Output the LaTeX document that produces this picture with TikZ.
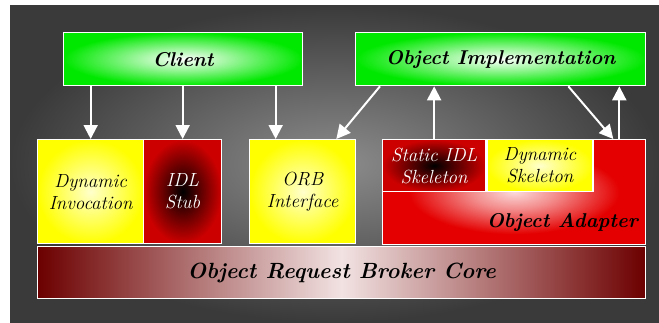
\documentclass[tikz,border=0pt]{standalone}
\usepackage{tikz}
\usetikzlibrary{positioning, arrows.meta, calc}
\definecolor{cBackOut}{RGB}{58, 58, 58}
\definecolor{cBackIn}{RGB}{140, 140, 140}
\definecolor{cGreen}{RGB}{0, 232, 0}
\definecolor{cYellow}{RGB}{255, 255, 0}
\definecolor{cRed}{RGB}{228, 0, 0}
\definecolor{cStub}{RGB}{205, 0, 0}
\definecolor{cDarkRed}{RGB}{108, 0, 0}
\definecolor{cPale}{RGB}{242, 226, 226}

% Lichtfleck fuer den Object Adapter
\pgfdeclareradialshading{adapterspot}{\pgfpoint{0bp}{0bp}}{%
  color(0bp)=(white!85!cRed); color(8bp)=(white!55!cRed); color(20bp)=(cRed); color(50bp)=(cRed)}

\begin{document}
\begin{tikzpicture}[
    x=1pt, y={(0pt,-1pt)},
    box/.style={draw=white, line width=1.3pt, rectangle, anchor=north west, inner sep=0pt},
    greenbox/.style={box, shading=radial, inner color=white, outer color=cGreen},
    yellowbox/.style={box, shading=radial, inner color=white!80!yellow, outer color=cYellow},
    darkbox/.style={box, shading=radial, inner color=black, outer color=cStub, text=white},
    bigtext/.style={font=\fontsize{20}{24}\selectfont\bfseries\itshape},
    coretext/.style={font=\fontsize{22}{26}\selectfont\bfseries\itshape},
    smalltext/.style={font=\fontsize{19}{22}\selectfont\itshape, align=center},
    flow/.style={draw=white, line width=2pt, -{Triangle[width=14pt,length=14pt]}}
]

    % --- Hintergrund ---
    \useasboundingbox (0,0) rectangle (659,322);
    \shade[inner color=cBackIn, outer color=cBackOut] (10,5) rectangle (659,322);

    % --- obere Reihe ---
    \node (client) [greenbox, bigtext, minimum width=239pt, minimum height=53pt] at (63,32) {Client};
    \node (impl) [greenbox, bigtext, minimum width=290pt, minimum height=53pt] at (355,32) {Object Implementation};

    % --- untere Reihe ---
    \node (dyninv) [yellowbox, smalltext, minimum width=106pt, minimum height=104pt] at (37,139) {Dynamic\\Invocation};
    \node (stub) [darkbox, smalltext, minimum width=78pt, minimum height=104pt] at (143,139) {IDL\\Stub};
    \node (orbif) [yellowbox, smalltext, minimum width=106pt, minimum height=104pt] at (249,139) {ORB\\Interface};

    % Object Adapter mit Skeletons
    \node (adapter) [box, shading=adapterspot, minimum width=263pt, minimum height=105pt,
        label={[bigtext, anchor=south east, xshift=-5pt, yshift=10pt]south east:Object Adapter}] at (382,139) {};
    \node (statskel) [darkbox, smalltext, minimum width=103pt, minimum height=52pt] at (382,139) {Static IDL\\Skeleton};
    \node (dynskel) [yellowbox, smalltext, minimum width=106pt, minimum height=52pt, right=0pt of statskel] {Dynamic\\Skeleton};

    % ORB Core
    \node (core) [box, coretext, left color=cDarkRed, right color=cDarkRed, middle color=cPale,
        minimum width=608pt, minimum height=52pt] at (37,246) {Object Request Broker Core};

    % --- Pfeile ---
    \draw[flow] (dyninv.north |- client.south) -- (dyninv.north);
    \draw[flow] (stub.north |- client.south) -- (stub.north);
    \draw[flow] ([xshift=-27pt]orbif.north |- client.south) -- ([xshift=-27pt]orbif.north);

    \draw[flow] ([xshift=25pt]impl.south west) -- ([xshift=-20pt]orbif.north east);
    \draw[flow] (statskel.north) -- (statskel.north |- impl.south);
    \draw[flow] ([xshift=-78pt]impl.south east) -- ([xshift=-33pt]adapter.north east);
    \draw[flow] ([xshift=-27pt]adapter.north east) -- ([xshift=-27pt]adapter.north east |- impl.south);

\end{tikzpicture}
\end{document}
